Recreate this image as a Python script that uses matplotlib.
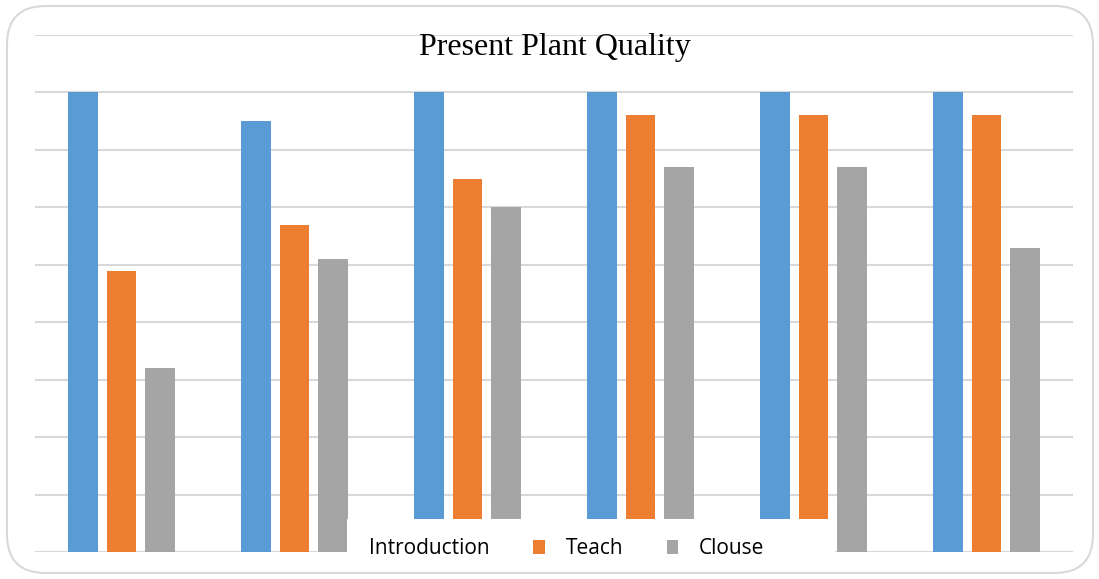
import matplotlib.pyplot as plt
import numpy as np
from matplotlib.patches import Patch, FancyBboxPatch, Rectangle

groups = ['1', '2', '3', '4', '5', '6']
introduction = [8.0, 7.5, 8.0, 8.0, 8.0, 8.0]
teach = [4.9, 5.7, 6.5, 7.6, 7.6, 7.6]
clouse = [3.2, 5.1, 6.0, 6.7, 6.7, 5.3]
series_names = ['Introduction', 'Teach', 'Clouse']

colors = ['#5b9bd5', '#ed7d31', '#a5a5a5']

W, H = 1099, 579
fig = plt.figure(figsize=(W/100, H/100), dpi=100)
ax = fig.add_axes([35/W, 1-552/H, 1038/W, 517/H])

x = np.arange(len(groups))
w = 0.173
off = 0.224
for i, vals in enumerate([introduction, teach, clouse]):
    ax.bar(x + (i-1)*off, vals, width=w, color=colors[i], zorder=2)

ax.set_xlim(-0.5, 5.5)
ax.set_ylim(0, 9)
ax.set_yticks(np.arange(0, 10, 1))
ax.grid(axis='y', color='#d9d9d9', linewidth=1.5, zorder=0)
ax.set_xticks([])
ax.tick_params(left=False, labelleft=False)
for s in ax.spines.values():
    s.set_visible(False)

fig.text(555/W, 1-48/H, 'Present Plant Quality', ha='center', va='center',
         family='Liberation Serif', fontsize=23)

# outer rounded border
border = FancyBboxPatch((7/W, 6/H), 1086/W, 567/H,
                        boxstyle='round,pad=0,rounding_size=0.035',
                        transform=fig.transFigure, facecolor='none',
                        edgecolor='#d9d9d9', linewidth=1.5, mutation_aspect=W/H)
fig.patches.append(border)

# white legend area laid over the bar bottoms, as in the original
fig.add_artist(Rectangle((347/W, 1-556/H), 488/W, 37/H, transform=fig.transFigure,
                         facecolor='white', edgecolor='none', zorder=4))

# first marker is hidden in the original
handles = [Patch(facecolor='none', edgecolor='none'),
           Patch(facecolor=colors[1]),
           Patch(facecolor=colors[2])]
leg = fig.legend(handles, series_names, ncol=3, loc='lower left',
                 bbox_to_anchor=(322/W, 1-574/H), frameon=False,
                 prop={'family': 'Open Sans', 'size': 15},
                 handlelength=0.55, handleheight=0.7, handletextpad=1.0,
                 columnspacing=2.1, borderpad=0.2)
leg.set_zorder(5)

fig.savefig('out.png', dpi=100)
